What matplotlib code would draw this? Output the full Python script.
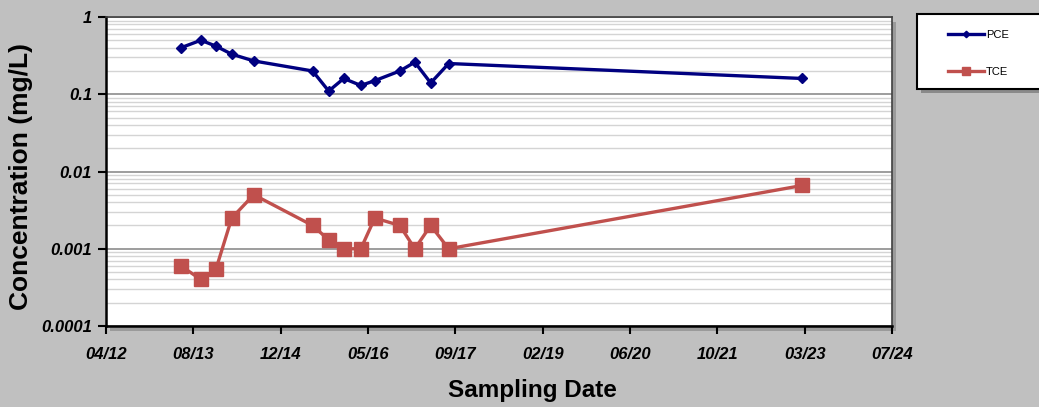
import numpy as np
import pandas as pd
import matplotlib
matplotlib.use("Agg")
import matplotlib.pyplot as plt
import matplotlib.dates as mdates
from matplotlib.patches import Rectangle
from matplotlib.ticker import LogLocator, FixedLocator

# sampling dates and results (mg/L)
dates = pd.to_datetime(['2013-06-04', '2013-09-26', '2013-12-21', '2014-03-22', '2014-07-26',
                        '2015-06-28', '2015-09-28', '2015-12-23', '2016-03-30', '2016-06-18',
                        '2016-11-08', '2017-02-02', '2017-05-04', '2017-08-15', '2023-03-02'])
pce = [0.4, 0.5, 0.42, 0.33, 0.27, 0.2, 0.11, 0.16, 0.13, 0.15, 0.2, 0.26, 0.14, 0.25, 0.16]
tce = [0.0006, 0.0004, 0.00054, 0.0025, 0.005, 0.002, 0.0013, 0.001, 0.001, 0.0025,
       0.002, 0.001, 0.002, 0.001, 0.0066]

x_start = pd.Timestamp('2012-04-01')
tick_dates = [x_start + pd.Timedelta(days=500 * i) for i in range(10)]
y_ticks = [0.0001, 0.001, 0.01, 0.1, 1]
y_labels = ['0.0001', '0.001', '0.01', '0.1', '1']

plt.rcParams['font.family'] = ['Liberation Sans', 'DejaVu Sans']

fig = plt.figure(figsize=(10.39, 4.07), dpi=100)
fig.patch.set_facecolor('#c0c0c0')
ax = fig.add_axes([106/1039, 1 - 326/407, 786/1039, 309/407])

# drop shadow behind plot area
fig.patches.append(Rectangle((110/1039, 1 - 331/407), 786/1039, 309/407, transform=fig.transFigure,
                             facecolor='#9a9a9a', edgecolor='none', zorder=-1))

ax.plot(dates, pce, color='#000080', lw=2.4, marker='D', ms=5.5, label='PCE', zorder=4)
ax.plot(dates, tce, color='#c0504d', lw=2.4, marker='s', ms=9.5, label='TCE', zorder=3)

ax.set_yscale('log')
ax.set_ylim(0.0001, 1)
ax.yaxis.set_major_locator(FixedLocator(y_ticks))
ax.set_yticklabels(y_labels)
ax.yaxis.set_minor_locator(LogLocator(base=10, subs=np.arange(2, 10)))
ax.yaxis.set_minor_formatter(plt.NullFormatter())
ax.tick_params(axis='y', which='minor', length=0)

ax.set_xlim(tick_dates[0], tick_dates[-1])
ax.xaxis.set_major_locator(FixedLocator(mdates.date2num(tick_dates)))
ax.xaxis.set_major_formatter(mdates.DateFormatter('%m/%y'))

ax.grid(axis='y', which='major', color='#8c8c8c', lw=1.2)
ax.grid(axis='y', which='minor', color='#d4d4d4', lw=1.0)
ax.set_axisbelow(True)

for lab in ax.get_xticklabels() + ax.get_yticklabels():
    lab.set_fontsize(12)
    lab.set_fontweight('bold')
    lab.set_fontstyle('italic')
ax.tick_params(axis='both', which='major', length=6, width=1.5, direction='out', colors='black')
ax.tick_params(axis='x', pad=9)
ax.tick_params(axis='y', pad=4)

for s in ['left', 'bottom']:
    ax.spines[s].set_linewidth(1.8)
for s in ['top', 'right']:
    ax.spines[s].set_linewidth(1.2)
    ax.spines[s].set_color('#404040')

ax.set_xlabel('Sampling Date', fontsize=17.5, fontweight='bold', va='center', ha='center')
ax.xaxis.set_label_coords((532 - 106) / 786, -(391 - 326) / 309)
ax.set_ylabel('Concentration (mg/L)', fontsize=19, fontweight='bold', va='center', ha='center')
ax.yaxis.set_label_coords(-(106 - 21) / 786, (326 - 177) / 309)

# legend box
fig.patches.append(Rectangle((921/1039, 1 - 93/407), 130/1039, 75/407, transform=fig.transFigure,
                             facecolor='#8a8a8a', edgecolor='none', zorder=1))
fig.patches.append(Rectangle((917/1039, 1 - 89/407), 130/1039, 75/407, transform=fig.transFigure,
                             facecolor='white', edgecolor='black', lw=1.5, zorder=2))
leg = fig.legend(loc='upper left', bbox_to_anchor=(938/1039, 1 - 20/407), frameon=False,
                 fontsize=8, labelspacing=2.45, handlelength=3.2, handletextpad=0.2,
                 markerscale=0.6)
leg.set_zorder(3)

fig.savefig('out.png', dpi=100, facecolor=fig.get_facecolor())
